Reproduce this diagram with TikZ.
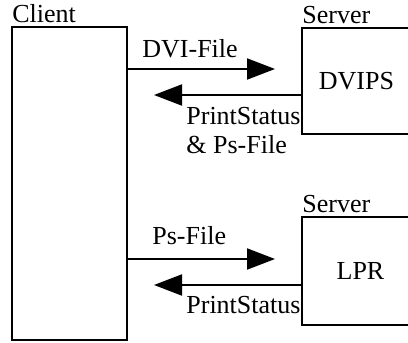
\documentclass[tikz,border=0pt]{standalone}
\usepackage{fontspec}
\setmainfont{Liberation Serif}
\usetikzlibrary{arrows.meta, positioning}

\begin{document}
\begin{tikzpicture}[
  x=0.5pt, y=0.5pt,
  font=\fontsize{13pt}{14.5pt}\selectfont,
  box/.style  = {rectangle, draw=black, line width=1pt, fill=white,
                 inner sep=0pt, align=center},
  lbl/.style  = {inner sep=0pt, align=left},
  arr/.style  = {-{Triangle[length=14pt, width=10.5pt]}, black, line width=1pt}
]
\useasboundingbox (0,0) rectangle (408,343);

% boxes
\node[box, minimum width=57.5pt, minimum height=156.5pt] (client) at (69.5,159.5) {};
\node[box, minimum width=54.5pt, minimum height=53pt]    (dvips)  at (356.5,262) {DVIPS};
\node[box, minimum width=58.5pt, minimum height=54pt]    (lpr)    at (360.5,72)  {LPR};

% titles above the boxes
\node[lbl, above right=1.5pt and 0.5pt of client.north west] (clienttitle) {Client};
\node[lbl, above right=1.5pt and 0.5pt of dvips.north west]  (dvipstitle)  {Server};
\node[lbl, above right=1.5pt and 0.5pt of lpr.north west]    (lprtitle)    {Server};

% arrow ends
\coordinate (dvitip)   at (275,274);
\coordinate (stattipa) at (154,248);
\coordinate (pstip)    at (275,84);
\coordinate (stattipb) at (154,58);

\draw[arr] (client.east |- dvitip)  -- (dvitip);
\draw[arr] (dvips.west |- stattipa) -- (stattipa);
\draw[arr] (client.east |- pstip)   -- (pstip);
\draw[arr] (lpr.west |- stattipb)   -- (stattipb);

% arrow labels
\node[lbl, anchor=base west] (dvilbl)   at (142,285) {DVI-File};
\node[lbl, anchor=base west] (statlbla) at (186,189) {PrintStatus\\\& Ps-File};
\node[lbl, anchor=base west] (pslbl)    at (152,98)  {Ps-File};
\node[lbl, anchor=base west] (statlblb) at (186,29)  {PrintStatus};

\end{tikzpicture}
\end{document}
